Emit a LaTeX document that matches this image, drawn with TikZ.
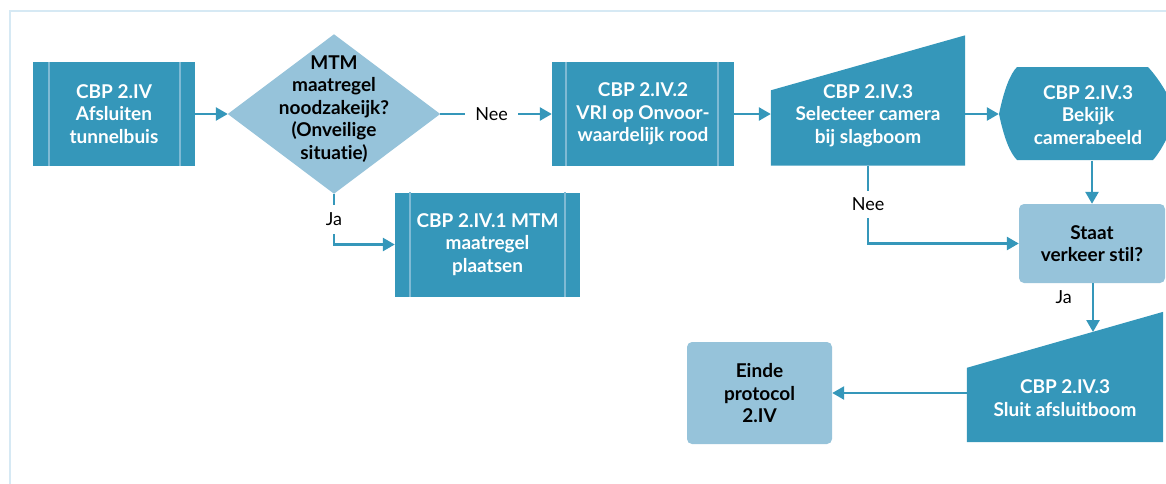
\documentclass[tikz,border=0pt]{standalone}
\usepackage{fontspec}
\setmainfont[Ligatures=NoCommon,Contextuals=NoAlternate]{Lato}
\usetikzlibrary{calc,arrows.meta,backgrounds}
\definecolor{teal}{HTML}{3597BA}
\definecolor{lightb}{HTML}{96C3DA}
\definecolor{innerl}{HTML}{7FBAD4}
\definecolor{framec}{HTML}{D6E9F4}
\tikzset{
  every node/.style={font=\fontsize{19}{22.5}\selectfont\bfseries, align=center, inner sep=0pt},
  procbox/.style={fill=teal, text=white, minimum width=#1, minimum height=104},
  procbox/.default=176,
  txtonly/.style={text=white},
  lightbox/.style={fill=lightb, rounded corners=5pt, text=black},
  conn/.style={draw=teal, line width=2.6pt, -{Triangle[length=12pt,width=13pt]}},
  lbl/.style={font=\fontsize{18}{20}\selectfont, fill=white, text=black, inner sep=#1},
  lbl/.default=8pt,
  innerline/.style={draw=innerl, line width=1.6pt},
}
\begin{document}
\begin{tikzpicture}[x=1pt,y=-1pt]
\clip (0,0) rectangle (1166,483);
\useasboundingbox (0,0) rectangle (1166,483);
% frame
\draw[framec, line width=1.6pt] (10,484) -- (10,11) -- (1170,11);

% predefined process boxes
\node[procbox=162] (b1) at (114,114) {CBP 2.IV\\Afsluiten\\tunnelbuis};
\draw[innerline] ($(b1.north west)+(16,0)$) -- ($(b1.south west)+(16,0)$);
\draw[innerline] ($(b1.north east)+(-15,0)$) -- ($(b1.south east)+(-15,0)$);

\node[procbox=182] (b2) at (643,114) {CBP 2.IV.2\\VRI op Onvoor-\\waardelijk rood};
\draw[innerline] ($(b2.north west)+(14,0)$) -- ($(b2.south west)+(14,0)$);
\draw[innerline] ($(b2.north east)+(-16,0)$) -- ($(b2.south east)+(-16,0)$);

\node[procbox=185] (b3) at (487.5,244.5) {CBP 2.IV.1 MTM\\maatregel\\plaatsen};
\draw[innerline] ($(b3.north west)+(15,0)$) -- ($(b3.south west)+(15,0)$);
\draw[innerline] ($(b3.north east)+(-15,0)$) -- ($(b3.south east)+(-15,0)$);

% decision diamond
\node[minimum width=212, minimum height=159] (dia) at (334,114) {};
\begin{scope}[on background layer]
\fill[lightb] (dia.north) -- (dia.east) -- (dia.south) -- (dia.west) -- cycle;
\end{scope}
\node[text=black] (diat) at (334,109) {MTM\\maatregel\\noodzakeijk?\\(Onveilige\\situatie)};

% manual input 1
\node[txtonly, minimum width=194, minimum height=100] (t1) at (868,115.5) {CBP 2.IV.3\\Selecteer camera\\bij slagboom};
\begin{scope}[on background layer]
\fill[teal] (t1.south west) -- (t1.south east) -- ($(t1.north east)+(0,-30)$) -- ($(t1.north west)+(0,25)$) -- cycle;
\end{scope}

% display shape
\node[minimum width=166, minimum height=93] (d1) at (1082,114) {};
\node[text=white] (d1t) at (1088,115) {CBP 2.IV.3\\Bekijk\\camerabeeld};
\begin{scope}[on background layer]
\fill[teal] (999,114) .. controls (1004,90) and (1010,74) .. (1017,67) -- (1148,67)
  .. controls (1160,80) and (1172,100) .. (1175,114)
  .. controls (1172,130) and (1162,150) .. (1153,160) -- (1017,160)
  .. controls (1010,153) and (1004,138) .. cycle;
\end{scope}

% decision rounded box
\node[lightbox, minimum width=146, minimum height=79] (q) at (1092,243.5) {Staat\\verkeer stil?};

% manual input 2
\node[txtonly, minimum width=196, minimum height=88] (t2) at (1065,398) {CBP 2.IV.3\\Sluit afsluitboom};
\begin{scope}[on background layer]
\fill[teal] (t2.south west) -- (t2.south east) -- ($(t2.north east)+(0,-42)$) -- ($(t2.north west)+(0,14)$) -- cycle;
\end{scope}
\coordinate (t2in) at (1093,332);

% end box
\node[lightbox, minimum width=145, minimum height=102] (end) at (759.5,393) {Einde\\protocol\\2.IV};

% connectors
\draw[conn] (b1.east) -- (dia.west);
\draw[conn] (dia.east) -- node[lbl=10pt, pos=0.46] {Nee} (b2.west);
\draw[conn] (dia.south) -- node[lbl=8pt, pos=0.5] {Ja} (dia.south |- b3.west) -- (b3.west);
\draw[conn] (b2.east) -- (b2.east -| t1.west);
\draw[conn] (t1.east |- d1.west) -- (d1.west);
\draw[conn] (d1.south -| q.north) -- (q.north);
\draw[conn] (t1.south) -- node[lbl=7pt, pos=0.5] {Nee} (t1.south |- q.west) -- (q.west);
\draw[conn] (q.south -| t2in) -- node[lbl=0pt, pos=0.29, left=20pt, fill=none] {Ja} (t2in);
\draw[conn] (t2.west |- end.east) -- (end.east);
\end{tikzpicture}
\end{document}
